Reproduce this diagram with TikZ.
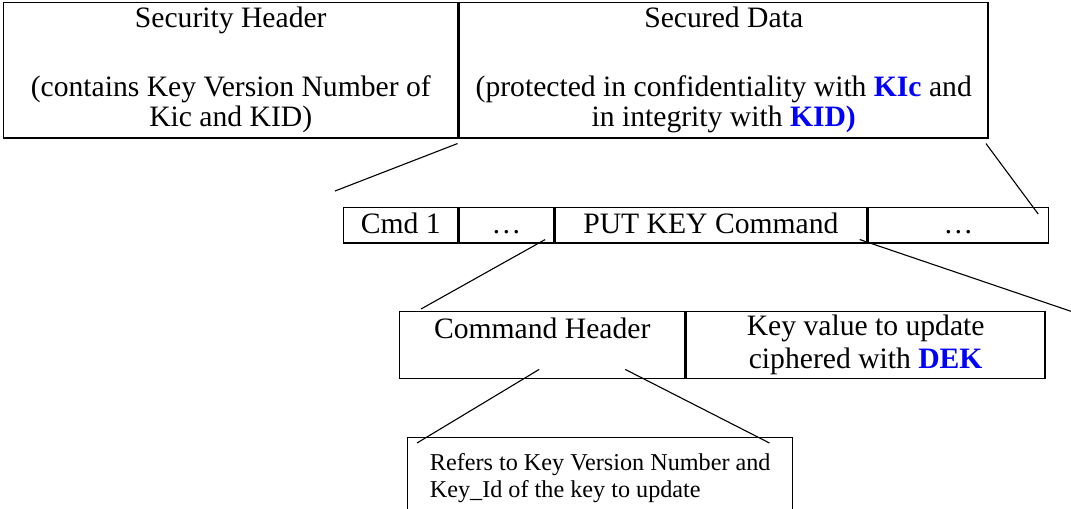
\documentclass[tikz,border=0pt]{standalone}
\usepackage{fontspec}
\setmainfont{Liberation Serif}
\usepackage{xcolor}
\usepackage{tikz}
\usetikzlibrary{calc}
\newcommand{\keyname}[1]{\textcolor{blue}{\textbf{#1}}}

\begin{document}
\begin{tikzpicture}[x=0.405pt,y=-0.405pt,
		cell/.style={draw,line width=0.6pt,inner sep=0pt,anchor=north west,align=center,font=\fontsize{12}{13.4}\selectfont},
		topcell/.style={cell,minimum height=54.7pt,font=\fontsize{12}{12.15}\selectfont},
		rowcell/.style={cell,minimum height=14.2pt,text height=9.2pt,text depth=2.6pt},
		note/.style={draw,line width=0.6pt,anchor=north west,align=left,inner xsep=0pt,inner ysep=6.3pt,font=\fontsize{9.8}{10.8}\selectfont},
		link/.style={line width=0.45pt}]
		% Draw frame
		\useasboundingbox (0,0) rectangle (1071,508);
		\clip (0,0) rectangle (1071,508);
		% Secured packet
		\node[topcell,minimum width=183.9pt] (sechdr) at (3,2) {Security Header\\[15.8pt](contains Key Version Number of\\Kic and KID)};
		\node[topcell,minimum width=214.2pt] (secdata) at (sechdr.north east) {Secured Data\\[15.8pt](protected in confidentiality with \keyname{KIc} and\\in integrity with \keyname{KID)}};
		% Commands
		\node[rowcell,minimum width=46.2pt] (cmd1) at (343,207) {Cmd 1};
		\node[rowcell,minimum width=38.1pt] (dots1) at (cmd1.north east) {…};
		\node[rowcell,minimum width=126.4pt] (putkey) at (dots1.north east) {PUT KEY Command};
		\node[rowcell,minimum width=72.9pt] (dots2) at (putkey.north east) {…};
		% PUT KEY content
		\node[cell,minimum width=115.4pt,minimum height=27.1pt] (cmdhdr) at (399,311) {Command Header\\~};
		\node[cell,minimum width=145.4pt,minimum height=27.1pt] (keyval) at (cmdhdr.north east) {Key value to update\\ciphered with \keyname{DEK}};
		\node[note,minimum width=155.9pt] (refers) at (407,437) {Refers to Key Version Number and\\Key\_Id of the key to update};
		% Draw links
		\coordinate (pktend) at (335,191);
		\coordinate (keyend) at (1073,312);
		\draw[link] ($(sechdr.south east)+(-1,5)$) -- (pktend);
		\draw[link] ($(secdata.south east)+(-3,5)$) -- ($(dots2.north east)+(-11,7)$);
		\draw[link] ($(dots1.south east)+(-9,-4)$) -- ($(cmdhdr.north west)+(22,-2)$);
		\draw[link] ($(putkey.south east)+(-8,-4)$) -- (keyend);
		\draw[link] ($(cmdhdr.south)+(-3,-10)$) -- ($(refers.north west)+(10,6)$);
		\draw[link] ($(cmdhdr.south)+(83,-10)$) -- ($(refers.north east)+(-24,6)$);
	\end{tikzpicture}
\end{document}
